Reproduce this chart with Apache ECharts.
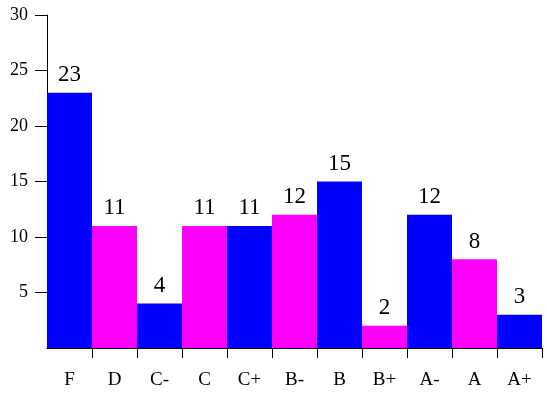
<!DOCTYPE html>
<html><head><meta charset="utf-8">
<script src="https://cdn.jsdelivr.net/npm/echarts@6/dist/echarts.min.js"></script>
<style>html,body{margin:0;padding:0;background:#fff}#c{width:547px;height:394px}</style>
</head><body><div id="c"></div>
<script>
const categories = ['F','D','C-','C','C+','B-','B','B+','A-','A','A+'];
const values = [23,11,4,11,11,12,15,2,12,8,3];
const colors = ['#0000ff','#ff00ff'];
const yTicks = [0,5,10,15,20,25,30];
const font = '"Liberation Serif", "DejaVu Serif", serif';
const chart = echarts.init(document.getElementById('c'));
chart.setOption({
  animation:false,
  grid:{left:47,right:5,top:15,bottom:46},
  xAxis:{type:'category',data:categories,
    axisLine:{lineStyle:{color:'#000',width:1}},
    axisTick:{show:true,length:10,lineStyle:{color:'#000'},interval:(i)=>i>0},
    axisLabel:{color:'#000',fontFamily:font,fontSize:19,margin:23}},
  yAxis:{type:'value',min:yTicks[0],max:yTicks[yTicks.length-1],interval:5,
    splitLine:{show:false},
    axisLine:{show:true,lineStyle:{color:'#000',width:1}},
    axisTick:{show:true,length:12,lineStyle:{color:'#000'},customValues:yTicks.slice(1)},
    axisLabel:{color:'#000',fontFamily:font,fontSize:18,margin:19,
      formatter:v=>v===0?'':String(v)}},
  series:[{type:'bar',barCategoryGap:0,
    data:values.map((v,i)=>({value:v,itemStyle:{color:colors[i%2]}})),
    label:{show:true,position:'top',distance:6,color:'#000',fontFamily:font,fontSize:23}}]
});
</script></body></html>
